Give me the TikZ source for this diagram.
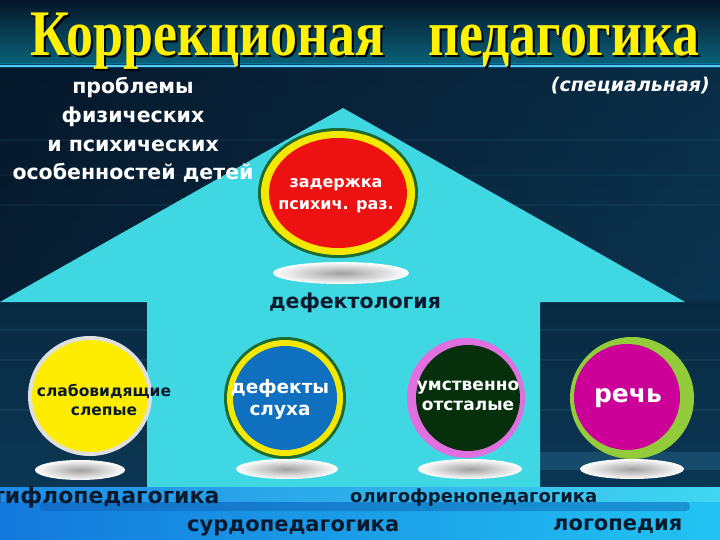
\documentclass[tikz,border=0pt]{standalone}
\usepackage{fontspec}
\setmainfont{DejaVu Sans}
\newfontfamily\titlefont[FakeStretch=0.83]{Liberation Serif}
\definecolor{navytop}{HTML}{061628}
\definecolor{navybot}{HTML}{0C3A58}
\definecolor{housecyan}{HTML}{3FD8E2}
\definecolor{titleyel}{HTML}{FFF200}
\definecolor{darktext}{HTML}{0A1A2E}
\definecolor{ringgreen}{HTML}{1E6B30}
\definecolor{ringyel}{HTML}{F5E800}
\definecolor{discred}{HTML}{EE1111}
\definecolor{discblue}{HTML}{1070C0}
\definecolor{discdark}{HTML}{06300C}
\definecolor{ringpink}{HTML}{E070E0}
\definecolor{discmag}{HTML}{CC0099}
\definecolor{ringlime}{HTML}{92CC3A}
\definecolor{bandleft}{HTML}{1478DC}
\definecolor{bandright}{HTML}{22C4F2}
\definecolor{stripleft}{HTML}{1E8CE6}
\definecolor{stripright}{HTML}{44DAF2}
\begin{document}
\begin{tikzpicture}[x=1pt,y=-1pt,
    lbl/.style={font=\bfseries, align=center, inner sep=0pt},
    floorshadow/.style={inner color=gray!75, outer color=white},
    sizeA/.style={font=\bfseries\fontsize{20.5}{28.7}\selectfont},
  ]
  \useasboundingbox (0,0) rectangle (720,540);
  % background
  \shade[top color=navytop, bottom color=navybot] (0,0) rectangle (720,540);
  \shade[left color=navytop, right color=navybot, opacity=0.6] (0,0) rectangle (720,300);
  \foreach \yy/\op in {140/0.06,175/0.05,205/0.06,330/0.08,360/0.06,410/0.07} {
    \draw[cyan!60, line width=1.2pt, opacity=\op] (0,\yy) -- (720,\yy);
  }
  % title band
  \shade[top color=navytop, bottom color=navybot!80!cyan] (0,0) rectangle (720,64);
  \draw[cyan!50!white, line width=2pt] (0,66) -- (720,66);
  \draw[cyan, line width=5pt, opacity=0.3] (0,66) -- (720,66);
  % house
  \fill[housecyan] (0,302) -- (343,108) -- (685,302) -- (540,302) -- (540,487)
    -- (147,487) -- (147,302) -- cycle;
  % right wall glow
  \fill[cyan!60!navybot, opacity=0.25] (540,452) rectangle (720,470);
  % bottom band
  \shade[left color=bandleft, right color=bandright] (0,487) rectangle (720,540);
  \shade[left color=stripleft, right color=stripright, opacity=0.9] (0,487) rectangle (720,501);
  \fill[bandleft!80!black, opacity=0.45, rounded corners=4pt] (40,502) rectangle (690,511);
  % title
  \node[anchor=base west, inner sep=0pt, text=black] at (32,58) {\titlefont\bfseries\fontsize{65}{70}\selectfont Коррекционая};
  \node[anchor=base west, inner sep=0pt, text=titleyel] (title1) at (30,56) {\titlefont\bfseries\fontsize{65}{70}\selectfont Коррекционая};
  \node[anchor=base east, inner sep=0pt, text=black] at (702,58) {\titlefont\bfseries\fontsize{65}{70}\selectfont педагогика};
  \node[anchor=base east, inner sep=0pt, text=titleyel] (title2) at (700,56) {\titlefont\bfseries\fontsize{65}{70}\selectfont педагогика};
  % side texts
  \node[lbl, sizeA, text=white, anchor=base] (probl) at (133,180)
    {проблемы\\физических\\и психических\\особенностей детей};
  \node[anchor=base east, inner sep=0pt, text=white, font=\bfseries\itshape\fontsize{19}{22}\selectfont] (spec) at (710,92) {(специальная)};
  % centre disc
  \fill[ringgreen] (338,193) ellipse (80 and 65);
  \fill[ringyel] (338,193) ellipse (77 and 62);
  \fill[discred] (338,193) ellipse (69 and 55);
  \node[lbl, text=white, font=\bfseries\fontsize{16}{22}\selectfont, anchor=base] (zpr) at (336,210) {задержка\\психич. раз.};
  \shade[floorshadow] (341,273) ellipse (68 and 11);
  \node[lbl, text=darktext, font=\bfseries\fontsize{20.5}{24}\selectfont, anchor=base] (defekt) at (355,308) {дефектология};
  % lower discs
  \fill[gray!25] (90,396) ellipse (62 and 60);
  \fill[yellow!95!orange] (90,396) ellipse (58 and 56);
  \node[lbl, text=darktext, font=\bfseries\fontsize{15.5}{19}\selectfont, anchor=base] (slab) at (104,415) {слабовидящие\\слепые};
  \shade[floorshadow] (80,470) ellipse (45 and 10);
  \fill[ringgreen] (285,398) ellipse (61 and 61);
  \fill[ringyel] (285,398) ellipse (58 and 58);
  \fill[discblue] (285,398) ellipse (52 and 52);
  \node[lbl, text=white, font=\bfseries\fontsize{18.5}{22}\selectfont, anchor=base] (sluh) at (280,415) {дефекты\\слуха};
  \shade[floorshadow] (287,469) ellipse (51 and 10);
  \fill[ringpink] (466,398) ellipse (59 and 60);
  \fill[discdark] (468,398) ellipse (52 and 53);
  \node[lbl, text=white, font=\bfseries\fontsize{17}{20}\selectfont, anchor=base] (umstv) at (468,410) {умственно\\отсталые};
  \shade[floorshadow] (470,469) ellipse (52 and 10);
  \fill[ringlime] (632,398) ellipse (62 and 61);
  \fill[discmag] (627,397) ellipse (53 and 53);
  \node[lbl, text=white, font=\bfseries\fontsize{25}{28}\selectfont, anchor=base] (rech) at (628,402) {речь};
  \shade[floorshadow] (632,469) ellipse (52 and 10);
  % bottom labels
  \begin{scope}
    \clip (0,0) rectangle (720,540);
    \node[anchor=base west, inner sep=0pt, text=darktext, font=\bfseries\fontsize{22}{24}\selectfont] (tiflo) at (-8,503) {тифлопедагогика};
  \end{scope}
  \node[anchor=base west, inner sep=0pt, text=darktext, font=\bfseries\fontsize{18}{20}\selectfont] (oligo) at (350,502) {олигофренопедагогика};
  \node[anchor=base west, inner sep=0pt, text=darktext, font=\bfseries\fontsize{21}{24}\selectfont] (surdo) at (187,531) {сурдопедагогика};
  \node[anchor=base west, inner sep=0pt, text=darktext, font=\bfseries\fontsize{21}{24}\selectfont] (logo) at (553,530) {логопедия};
\end{tikzpicture}
\end{document}
